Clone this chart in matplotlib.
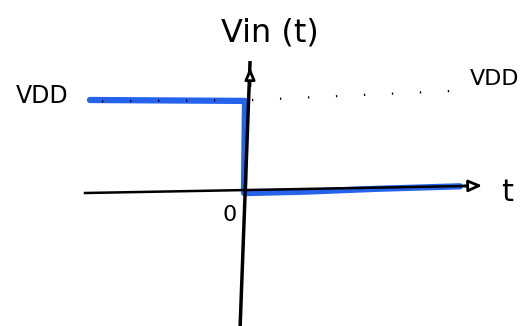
import numpy as np
import matplotlib.pyplot as plt

# 阶跃输入 Vin(t): t<0 为 VDD, t>0 为 0 (手绘草图, 单位任意)
t_step = [-1.57, -0.02, -0.03, 0.02, 0.6, 1.3, 2.13]
v_step = [1.0, 0.99, 0.0, 0.0, 0.015, 0.045, 0.072]

# 坐标轴(手绘, 略倾斜)
t_axis_x = [-1.62, 2.18]
v_axis_x = [0.0, 0.075]
t_axis_y = [-0.07, 0.03]
v_axis_y = [-1.47, 1.40]

# VDD 虚线
t_dot = [0.05, 2.11]
v_dot = [1.0, 1.10]
t_dot_left = [-1.45, -0.05]
v_dot_left = [0.985, 1.0]

blue = '#2563eb'

fig = plt.figure(figsize=(5.32, 3.26), dpi=100)
ax = fig.add_axes([0, 0, 1, 1])
ax.set_xlim(-2.47, 2.85)
ax.set_ylim(-1.43, 2.075)
ax.axis('off')

# 蓝色阶跃
ax.plot(t_step, v_step, color=blue, lw=4.5, solid_capstyle='round',
        solid_joinstyle='round', zorder=2)

# 坐标轴
ax.plot(t_axis_x, v_axis_x, color='black', lw=1.8, zorder=3)
ax.plot(t_axis_y, v_axis_y, color='black', lw=2.5, zorder=3)
ax.annotate('', xy=(2.38, 0.08), xytext=(2.14, 0.075),
            arrowprops=dict(arrowstyle='-|>,head_length=0.8,head_width=0.35',
                            fc='white', ec='black', lw=2))
ax.annotate('', xy=(0.03, 1.38), xytext=(0.03, 1.12),
            arrowprops=dict(arrowstyle='-|>,head_length=0.7,head_width=0.3',
                            fc='white', ec='black', lw=2))

# 虚线
ax.plot(t_dot, v_dot, color='black', lw=1.6, ls=(0, (0.6, 12)), zorder=3)
ax.plot(t_dot_left, v_dot_left, color='black', lw=1.6, ls=(0, (0.6, 12)), zorder=3)

# 文字
ax.text(0.23, 1.72, 'Vin (t)', fontsize=23, ha='center', va='center')
ax.text(-2.05, 1.04, 'VDD', fontsize=17, ha='center', va='center')
ax.text(2.48, 1.23, 'VDD', fontsize=16, ha='center', va='center')
ax.text(-0.17, -0.24, '0', fontsize=16, ha='center', va='center')
ax.text(2.6, 0.0, 't', fontsize=22, ha='center', va='center')

plt.savefig('out.png', dpi=100)
